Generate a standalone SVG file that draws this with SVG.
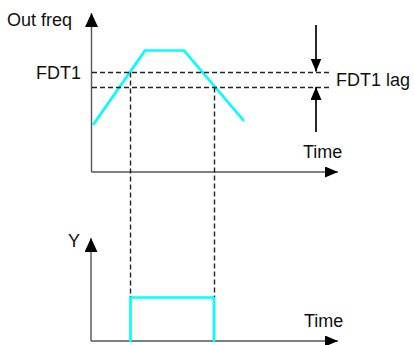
<svg xmlns="http://www.w3.org/2000/svg" width="414" height="345" viewBox="0 0 414 345">
<style>
text{font-family:"Liberation Sans",Arial,sans-serif;font-size:18px;fill:#111}
.axis{stroke:#555;stroke-width:1.4;fill:none}
.dash{stroke:#222;stroke-width:1.4;fill:none;stroke-dasharray:5,3}
.cyan{stroke:#00FFFF;stroke-width:2.7;fill:none}
.arr{stroke:#111;stroke-width:1.8;fill:none}
</style>
<defs>
<marker id="ah" markerUnits="userSpaceOnUse" markerWidth="16" markerHeight="14" refX="14" refY="6.5" orient="auto">
<path d="M0,0 L14,6.5 L0,13 Z" fill="#000"/>
</marker>
<marker id="ahs" markerUnits="userSpaceOnUse" markerWidth="14" markerHeight="12" refX="13" refY="5.5" orient="auto">
<path d="M0,0 L13,5.5 L0,11 Z" fill="#000"/>
</marker>
</defs>
<g id="top-chart">
<line class="axis" x1="91.5" y1="172" x2="91.5" y2="13" marker-end="url(#ah)"/>
<line class="axis" x1="91.5" y1="172" x2="338" y2="172" marker-end="url(#ahs)"/>
<text x="7" y="26">Out freq</text>
<text x="303" y="158">Time</text>
<text x="36" y="79">FDT1</text>
<text x="336" y="86">FDT1 lag</text>
<polyline class="cyan" points="93,125 145,50.5 184,50.5 244,121"/>
</g>
<g id="bottom-chart">
<line class="axis" x1="91" y1="341" x2="91" y2="238" marker-end="url(#ah)"/>
<line class="axis" x1="91" y1="341" x2="338" y2="341" marker-end="url(#ahs)"/>
<text x="68" y="247">Y</text>
<text x="304" y="327">Time</text>
<polyline class="cyan" points="130.5,342 130.5,297.5 214,297.5 214,342"/>
</g>
<g id="connectors">
<line class="dash" x1="92" y1="72.5" x2="332" y2="72.5"/>
<line class="dash" x1="92" y1="87.5" x2="332" y2="87.5"/>
<line class="dash" x1="130.5" y1="72.5" x2="130.5" y2="297"/>
<line class="dash" x1="214.5" y1="87.5" x2="214.5" y2="297"/>
<line class="arr" x1="316" y1="25" x2="316" y2="71.5" marker-end="url(#ahs)"/>
<line class="arr" x1="316" y1="132" x2="316" y2="87" marker-end="url(#ahs)"/>
</g>
</svg>
